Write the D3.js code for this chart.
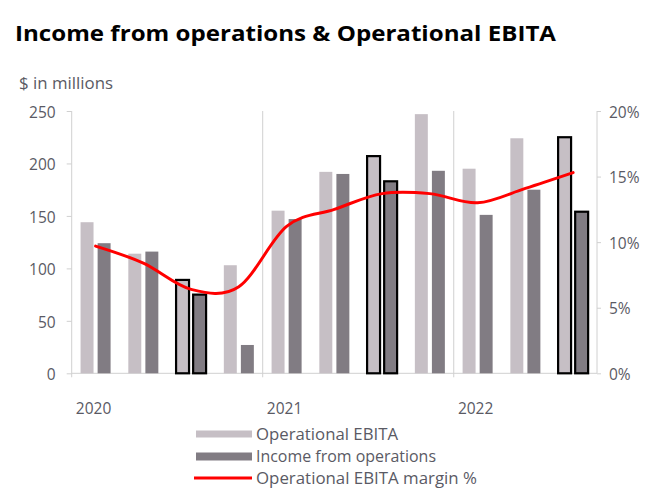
<!DOCTYPE html>
<html>
<head>
<meta charset="utf-8">
<script src="https://cdn.jsdelivr.net/npm/d3@7"></script>
<style>
  html, body { margin: 0; padding: 0; background: #fff; }
  svg { display: block; }
  text { font-family: "Open Sans", "DejaVu Sans", sans-serif; }
</style>
</head>
<body>
<svg id="chart" width="669" height="492"></svg>
<script>
// ---- Data ----
const quarters = ["Q1 2020","Q2 2020","Q3 2020","Q4 2020",
                  "Q1 2021","Q2 2021","Q3 2021","Q4 2021",
                  "Q1 2022","Q2 2022","Q3 2022"];
const yearLabels = ["2020","2021","2022"];
const yearFirstQuarter = ["Q1 2020","Q1 2021","Q1 2022"];
const highlighted = ["Q3 2020","Q3 2021","Q3 2022"];
const operationalEBITA = [144,114,89,103,155,192,207,247,195,224,225];
const incomeFromOperations = [124,116,75,27,147,190,183,193,151,175,154];
const ebitaMarginPct = [9.7,8.4,6.4,6.6,11.2,12.5,13.7,13.7,13.0,14.1,15.3];
const leftTicks = [0,50,100,150,200,250];
const rightTicks = [0,5,10,15,20];
const seriesNames = ["Operational EBITA","Income from operations","Operational EBITA margin %"];

// ---- Layout ----
const svg = d3.select("#chart");
const plot = {left: 71.7, right: 597, top: 111, bottom: 373.3};
const textColor = "#5a5a64";
const axisColor = "#d0d0d0";
const ebitaColor = "#c6bfc5";
const incomeColor = "#817c83";

const x = d3.scaleBand().domain(quarters).range([plot.left, plot.right]).padding(0);
const xSub = d3.scaleBand().domain(["ebita","income"]).range([0, x.bandwidth()])
  .paddingInner(0.24).paddingOuter(0.52);
const yL = d3.scaleLinear().domain([0, 250]).range([plot.bottom, plot.top]);
const yR = d3.scaleLinear().domain([0, 20]).range([plot.bottom, plot.top]);

function fit(sel, w) {
  const n = sel.node();
  const cur = n.getComputedTextLength();
  if (Math.abs(cur - w) > 1) sel.attr("textLength", w).attr("lengthAdjust", "spacingAndGlyphs");
}

// Title
svg.append("text").attr("x", 15).attr("y", 41)
  .attr("font-size", 22).attr("font-weight", "bold").attr("fill", "#000")
  .text("Income from operations & Operational EBITA")
  .call(fit, 541);
svg.append("text").attr("x", 19).attr("y", 89)
  .attr("font-size", 15.5).attr("fill", textColor)
  .text("$ in millions").call(fit, 94);

// Year separator gridlines
const sepQuarters = ["Q1 2021","Q1 2022"];
svg.append("g").selectAll("line").data(sepQuarters).join("line")
  .attr("x1", d => x(d)).attr("x2", d => x(d))
  .attr("y1", plot.top).attr("y2", plot.bottom + 4)
  .attr("stroke", axisColor).attr("stroke-width", 1);

// Left axis
const gL = svg.append("g").attr("transform", `translate(${plot.left},0)`)
  .call(d3.axisLeft(yL).tickValues(leftTicks).tickSize(5).tickPadding(11));
gL.select(".domain").attr("stroke", axisColor).attr("d", `M0,${plot.top}V${plot.bottom + 4}`);
gL.selectAll(".tick line").attr("stroke", axisColor);
gL.selectAll(".tick text").attr("fill", textColor).attr("font-size", 15.5)
  .attr("font-family", "\"Open Sans\", sans-serif").attr("dy", "0.4em");

// Right axis
const gR = svg.append("g").attr("transform", `translate(${plot.right},0)`)
  .call(d3.axisRight(yR).tickValues(rightTicks).tickFormat(d => d + "%").tickSize(4).tickPadding(8));
gR.select(".domain").attr("stroke", axisColor).attr("d", `M0,${plot.top}V${plot.bottom}`);
gR.selectAll(".tick line").attr("stroke", axisColor);
gR.selectAll(".tick text").attr("fill", textColor).attr("font-size", 15.5)
  .attr("font-family", "\"Open Sans\", sans-serif").attr("dy", "0.4em");

// Bottom axis line
svg.append("line").attr("x1", plot.left).attr("x2", plot.right)
  .attr("y1", plot.bottom).attr("y2", plot.bottom)
  .attr("stroke", axisColor).attr("stroke-width", 1);

// Year labels
svg.append("g").selectAll("text").data(yearLabels).join("text")
  .attr("x", (d, i) => x(yearFirstQuarter[i]) + x.bandwidth() / 2 - 2)
  .attr("y", 414).attr("text-anchor", "middle")
  .attr("font-size", 15.5).attr("fill", textColor).text(d => d);

// Bars
const rows = quarters.map((q, i) => ({q, ebita: operationalEBITA[i], income: incomeFromOperations[i]}));
const bars = svg.append("g");
rows.forEach(r => {
  const hl = highlighted.includes(r.q);
  [["ebita", ebitaColor], ["income", incomeColor]].forEach(([k, fill]) => {
    bars.append("rect")
      .attr("x", x(r.q) + xSub(k))
      .attr("y", yL(r[k]))
      .attr("width", xSub.bandwidth())
      .attr("height", yL(0) - yL(r[k]))
      .attr("fill", fill)
      .attr("stroke", hl ? "#000" : "none")
      .attr("stroke-width", hl ? 2.2 : 0);
  });
});

// Margin line
const line = d3.line()
  .x((d, i) => x(quarters[i]) + x.bandwidth() / 2)
  .y(d => yR(d))
  .curve(d3.curveCardinal.tension(0));
svg.append("path").datum(ebitaMarginPct)
  .attr("d", line).attr("fill", "none")
  .attr("stroke", "#ff0000").attr("stroke-width", 3).attr("stroke-linecap", "round");

// Legend
const lg = svg.append("g");
const legendY = [434, 456, 478];
lg.append("rect").attr("x", 196).attr("y", legendY[0] - 3.5).attr("width", 56).attr("height", 7).attr("fill", ebitaColor);
lg.append("rect").attr("x", 196).attr("y", legendY[1] - 3.5).attr("width", 56).attr("height", 8).attr("fill", incomeColor);
lg.append("line").attr("x1", 194).attr("x2", 252).attr("y1", legendY[2]).attr("y2", legendY[2])
  .attr("stroke", "#ff0000").attr("stroke-width", 3);
const legendW = [142, 180, 221];
lg.selectAll("text").data(seriesNames).join("text")
  .attr("x", 256).attr("y", (d, i) => legendY[i] + 5.5)
  .attr("font-size", 15.5).attr("fill", textColor).text(d => d)
  .each(function(d, i) { fit(d3.select(this), legendW[i]); });
</script>
</body>
</html>
